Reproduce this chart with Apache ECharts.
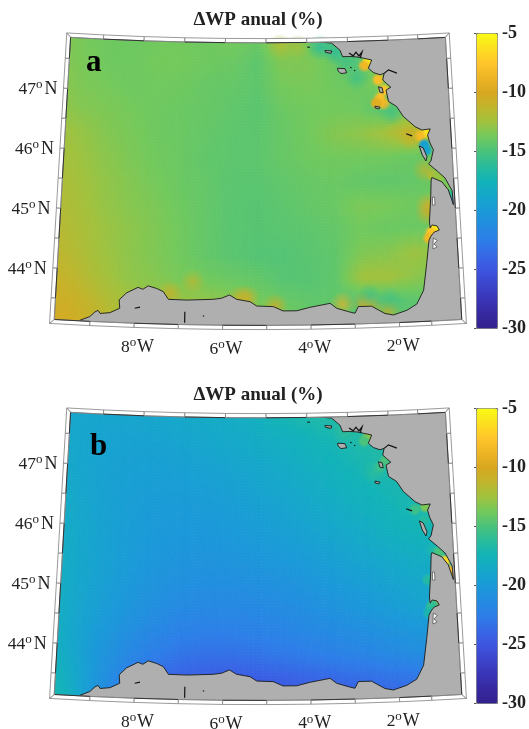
<!DOCTYPE html>
<html><head><meta charset="utf-8">
<style>html,body{margin:0;padding:0;background:#fff}#c{width:529px;height:729px}</style>
<script src="https://cdn.jsdelivr.net/npm/echarts@6/dist/echarts.min.js"></script>
</head><body><div id="c"></div>
<script>
const TITLE = "\u0394WP anual (%)";
const PANEL_LETTERS = ["a", "b"];
const LAT_TICKS = [47, 46, 45, 44];
const LON_TICKS = [8, 6, 4, 2];
const CB_MIN = -30, CB_MAX = -5, CB_STEP = 5;
const CB_COLORS = ["#33218F","#36299F","#3A35B8","#3C45CC","#3D55E0","#3669E6","#2D7EE8","#238CE0","#1A9AD8","#15A7CA","#12B3B8","#28BC9C","#4AC27C","#72C95C","#A0C23E","#C0B52C","#D8A71F","#EEB525","#FFC52B","#FCE020","#F9FB15"];
const LAT_NODES = [47.9,47.5,47.1,46.7,46.3,45.9,45.5,45.1,44.7,44.3,43.9,43.5,43.1];
const LON_NODES = [-10,-9.4,-8.8,-8.2,-7.6,-7,-6.4,-5.8,-5.2,-4.6,-4,-3.4,-2.8,-2.2,-1.6,-1,-0.4];
const SEA_A = [
[-13.3,-13.7,-13.9,-13.9,-13.8,-13.8,-13.9,-13.7,-14.0,-12.4,-14.0,-15.0,-14.8,-14.5,-14,-14,-14],
[-13.3,-13.6,-13.9,-13.9,-13.7,-13.7,-13.9,-14,-14.4,-13.4,-13.4,-13.9,-14.8,-13,-13,-13,-13],
[-13.1,-13.5,-13.7,-13.9,-13.8,-13.9,-14.1,-14.2,-14.4,-13.7,-13.6,-13.8,-14,-13.5,-13,-13,-13],
[-12.9,-13.3,-13.5,-13.7,-13.9,-14,-14.1,-14.3,-14.5,-14,-13.8,-13.7,-13.8,-14.6,-14,-14,-14],
[-12.4,-12.8,-13.3,-13.6,-13.9,-14,-14.2,-14.4,-14.4,-14.1,-13.8,-13.3,-13,-12.4,-11.2,-12,-12],
[-12.2,-12.6,-13.1,-13.5,-13.8,-14,-14.3,-14.4,-14.4,-14.1,-13.9,-13.8,-13.8,-13.8,-14,-14,-14],
[-11.9,-12.4,-12.9,-13.3,-13.7,-14,-14.2,-14.5,-14.5,-14.3,-14.1,-14,-14.2,-14.3,-14.2,-14,-14],
[-11.7,-12.2,-12.8,-13.2,-13.5,-13.9,-14.2,-14.5,-14.6,-14.4,-14.2,-14,-13.5,-13.6,-13.8,-14,-14],
[-11.5,-12,-12.6,-13,-13.4,-13.8,-14.2,-14.5,-14.6,-14.5,-14.4,-14.2,-13.8,-14,-14,-14,-14],
[-11.2,-11.8,-12.5,-13,-13.4,-13.8,-14.2,-14.5,-14.7,-14.7,-14.5,-14.3,-13.4,-13.2,-12.6,-13,-14],
[-10.8,-11.4,-12.2,-12.9,-13.2,-13.6,-13.8,-14,-14.2,-14.6,-14.6,-14.3,-12.4,-12.4,-13,-13.5,-14],
[-10.4,-10.8,-11.6,-12.4,-12.6,-12.6,-12.8,-13.2,-13.6,-14,-14.3,-14.3,-15,-14.8,-14.4,-14,-14],
[-10.2,-10.4,-11,-12,-12,-12,-12.2,-12.6,-13.2,-13.6,-14,-14,-14.5,-14.4,-14.2,-14,-14]];
const SEA_B = [
[-18.8,-19,-19,-18.9,-18.8,-18.6,-18.4,-18.2,-17.8,-17.2,-16.8,-16.5,-16.4,-16,-16,-16,-16],
[-18.7,-19,-19.2,-19.2,-19.2,-19,-18.8,-18.6,-18.3,-18,-17.6,-17.2,-16.8,-16.5,-16,-16,-16],
[-18.5,-19,-19.3,-19.5,-19.5,-19.4,-19.2,-19,-18.7,-18.4,-18,-17.6,-17.2,-16.8,-16.4,-16,-16],
[-18.4,-19,-19.4,-19.6,-19.7,-19.7,-19.6,-19.4,-19.1,-18.8,-18.4,-18,-17.6,-17.3,-17,-16.6,-16.5],
[-18.2,-18.9,-19.4,-19.7,-19.9,-20,-19.9,-19.8,-19.5,-19.2,-18.8,-18.4,-18,-17.6,-17.2,-17,-17],
[-18.1,-18.8,-19.4,-19.8,-20.1,-20.2,-20.2,-20.1,-19.9,-19.6,-19.3,-18.9,-18.5,-18,-17.6,-17.2,-17],
[-18,-18.8,-19.4,-19.9,-20.3,-20.5,-20.6,-20.5,-20.3,-20.1,-19.8,-19.4,-19,-18.6,-18.2,-18,-18],
[-17.9,-18.8,-19.5,-20.1,-20.6,-20.9,-21,-21,-20.9,-20.7,-20.4,-20,-19.6,-19.2,-18.8,-18.5,-18],
[-17.9,-18.9,-19.7,-20.4,-21,-21.4,-21.6,-21.6,-21.5,-21.3,-21,-20.6,-20.2,-19.8,-19.3,-19,-18.5],
[-17.8,-19,-20,-20.9,-21.6,-22.1,-22.3,-22.3,-22.1,-21.9,-21.6,-21.3,-21,-20.6,-20.2,-20,-19.5],
[-17.6,-19,-20.4,-21.5,-22.4,-23,-23.3,-23.3,-23.1,-22.8,-22.5,-22.2,-21.9,-21.5,-21.1,-21,-20.5],
[-17,-18.6,-20.6,-22.2,-23.4,-24.2,-24.5,-24.6,-24.5,-24.3,-24,-23.7,-23.4,-23.1,-22.8,-22.5,-22],
[-16.5,-18.2,-21,-23,-24.5,-25,-25.3,-25.4,-25.4,-25.2,-25,-24.7,-24.5,-24.2,-24,-23.5,-23]];
const PATCH_A = [
[-2.51,47.5,-6],[-2.61,47.435,-8.5],[-2.28,47.195,-8],[-2.15,47.02,-7.5],[-2.25,46.89,-8],[-2.16,46.79,-8.5],[-2.35,46.81,-9.5],
[-1.16,46.29,-6],[-1.33,46.23,-8],[-1.24,46.08,-19.5],[-1.2,45.99,-19],
[-1.09,45.57,-12.5],[-0.93,45.53,-12.8],[-0.8,45.38,-13.5],[-0.72,45.22,-16],[-0.65,45.1,-21],
[-1.08,44.69,-5.5],[-1.18,44.62,-7.5],[-1.24,44.525,-8.5]];
const GLOW_A = [
[-1.57,46.22,-10.5],[-1.25,45.66,-11],[-1.22,45.08,-9.5],[-1.23,44.94,-10],
[-7.21,43.66,-10.5],[-6.69,43.86,-11.3],[-5.45,43.597,-9.8],[-5.61,43.6,-10.5],[-4.81,43.463,-10],
[-3.27,43.48,-9],[-2.79,43.47,-10],[-2.65,43.45,-9.5],[-2.25,43.34,-10.5],[-2.65,43.6,-15.5],[-2.19,43.54,-15.2],
[-3.68,47.765,-16.5],[-3.31,47.68,-16.5],[-3.07,47.51,-15.5],[-2.79,47.24,-15.5],[-1.98,46.63,-15.5],[-4.22,47.77,-12.2],[-4.66,47.79,-12]];
const PATCH_B = [
[-2.51,47.5,-13],[-2.61,47.435,-15],[-2.12,47.09,-15],[-2.25,46.99,-15.5],[-1.2,46.3,-13.5],[-1.45,46.26,-15.5],[-1.24,46.08,-16.5],
[-1.09,45.57,-17],[-0.93,45.53,-15],[-0.8,45.38,-6.5],[-0.72,45.22,-8],[-0.65,45.1,-10],
[-1.22,45.08,-16.5],[-1.08,44.69,-9],[-1.13,44.66,-15.5],[-1.18,44.62,-16],[-1.24,44.525,-17]];
const GLOW_B = [[-3.07,47.6,-15.8],[-2.4,46.9,-16]];
const COAST_LON = [-9.23,-9.01,-8.9,-8.83,-8.78,-8.56,-8.34,-8.36,-8.2,-7.94,-7.83,-7.71,-7.51,-7.36,-7.24,-6.82,-6.22,-6.03,-5.85,-5.69,-5.38,-5.23,-4.85,-4.63,-4.32,-4.02,-3.56,-3.41,-3.15,-3,-2.92,-2.62,-2.32,-2.13,-1.82,-1.59,-1.42,-1.32,-1.24,-1.19,-1.11,-0.99,-1.04,-1.15,-1.2,-1.21,-1.15,-1.12,-1.1,-0.87,-0.73,-0.63,-0.64,-0.79,-0.96,-1.16,-1.1,-1.03,-1.11,-1.15,-1.08,-1.28,-1.44,-1.71,-1.86,-2.05,-2.1,-1.98,-2.08,-2.17,-2.13,-2.23,-2.39,-2.51,-2.42,-2.62,-2.78,-2.95,-3.13,-3.19,-3.39,-3.51,-3.76,-4.25];
const COAST_LAT = [43.15,43.22,43.3,43.33,43.28,43.3,43.38,43.52,43.64,43.74,43.71,43.77,43.73,43.68,43.555,43.55,43.57,43.59,43.645,43.574,43.535,43.463,43.452,43.38,43.38,43.435,43.495,43.41,43.35,43.32,43.43,43.43,43.3,43.27,43.34,43.435,43.66,44.105,44.49,44.556,44.62,44.65,44.72,44.74,44.69,44.79,45.21,45.49,45.53,45.45,45.31,45.06,45.29,45.51,45.63,45.76,45.81,45.99,46.12,46.24,46.34,46.33,46.39,46.57,46.74,46.83,47.02,47.065,47.13,47.19,47.3,47.28,47.32,47.395,47.53,47.565,47.59,47.6,47.6,47.71,47.83,47.84,47.86,47.85];
const ISLANDS = [
[[-3.26,47.41],[-3.08,47.4],[-3.04,47.33],[-3.18,47.32],[-3.25,47.365]],
[[-3.56,47.71],[-3.39,47.7],[-3.41,47.66],[-3.545,47.68]],
[[-2.28,47.08],[-2.19,47.06],[-2.17,46.975],[-2.25,46.99]],
[[-2.38,46.76],[-2.26,46.74],[-2.29,46.71],[-2.38,46.73]],
[[-1.36,46.066],[-1.27,46.03],[-1.19,45.88],[-1.22,45.81],[-1.3,45.914]]];
const LAKES = [
[[-1.11,45.205],[-1.06,45.2],[-1.06,45.07],[-1.12,45.07]],
[[-1.14,44.52],[-1.05,44.48],[-1.13,44.42],[-1.06,44.37],[-1.16,44.34]]];
const DARK_MARKS = [
[[-2.97,47.66],[-2.87,47.61],[-2.8,47.67],[-2.73,47.605],[-2.65,47.67],[-2.7,47.57]],
[[-3.99,47.77],[-3.93,47.77]],[[-2.95,47.42],[-2.92,47.41]],[[-2.86,47.37],[-2.83,47.36]],
[[-1.66,46.28],[-1.52,46.24]],
[[-2.13,47.3],[-2.02,47.355],[-1.82,47.295]],
[[-6.86,43.355],[-6.86,43.17]],[[-8,43.39],[-7.88,43.41]],[[-6.45,43.29],[-6.42,43.29]]];
const LAT_BREAKS = [43.07,43.5,44,44.5,45,45.5,46,46.5,47,47.5,47.92];
const LON_BREAKS = [-9.91,-9,-8,-7,-6,-5,-4,-3,-2,-1.27,-0.49];

// Map projection (conic) used to place every map mark through the axes.
const RHO0 = 3378, PX_PER_DEG = 60, CONE = 0.012566, LON0 = -5.2, LAT0 = 45.5;
const INNER = {w:-9.81, e:-0.59, s:43.14, n:47.85};
function project(lon, lat){
  const rho = RHO0 - (lat - LAT0) * PX_PER_DEG, th = (lon - LON0) * CONE;
  return [rho * Math.sin(th), RHO0 - rho * Math.cos(th)];
}
const clamp = (v,a,b)=>Math.max(a,Math.min(b,v));
const colorOf = v => echarts.color.lerp(clamp((v-CB_MIN)/(CB_MAX-CB_MIN),0,1), CB_COLORS);
const SERIF = '"Liberation Serif","Times New Roman",serif';

function seaSeries(idx, M){
  const data=[];
  M.forEach((r,j)=>r.forEach((v,i)=>{ if(i<r.length-1&&j<M.length-1) data.push([i,j,v]); }));
  const SUB=8;
  return {type:'custom',coordinateSystem:'cartesian2d',xAxisIndex:idx,yAxisIndex:idx,silent:true,clip:false,z:1,
    progressive:0,animation:false,data,encode:{x:-1,y:-1},
    renderItem(p,api){
      const i=api.value(0), j=api.value(1), ch=[];
      const lo0=LON_NODES[i],lo1=LON_NODES[i+1],la0=LAT_NODES[j],la1=LAT_NODES[j+1];
      const q=(u,v)=>{const lon=clamp(lo0+(lo1-lo0)*u,INNER.w,INNER.e),lat=clamp(la0+(la1-la0)*v,INNER.s,INNER.n);return api.coord(project(lon,lat));};
      const a=M[j][i],b=M[j][i+1],c=M[j+1][i],d=M[j+1][i+1];
      for(let s=0;s<SUB;s++)for(let t=0;t<SUB;t++){
        const u0=s/SUB,u1=(s+1)/SUB,v0=t/SUB,v1=(t+1)/SUB,um=(u0+u1)/2,vm=(v0+v1)/2;
        const val=a*(1-um)*(1-vm)+b*um*(1-vm)+c*(1-um)*vm+d*um*vm;
        const col=colorOf(val);
        ch.push({type:'polygon',shape:{points:[q(u0,v0),q(u1,v0),q(u1,v1),q(u0,v1)]},style:{fill:col,stroke:col,lineWidth:0.8}});
      }
      return {type:'group',children:ch};
    }};
}
function patchSeries(idx, P){
  return {type:'custom',coordinateSystem:'cartesian2d',xAxisIndex:idx,yAxisIndex:idx,silent:true,clip:false,z:2,animation:false,
    data:P,encode:{x:0,y:1},
    renderItem(p,api){
      const c=api.coord(project(api.value(0),api.value(1))), col=api.visual('color');
      return {type:'circle',shape:{cx:c[0],cy:c[1],r:7},style:{fill:{type:'radial',x:.5,y:.5,r:.5,colorStops:[
        {offset:0,color:col},{offset:.45,color:col},{offset:1,color:echarts.color.modifyAlpha(col,0)}]}}};
    }};
}
function glowSeries(idx, P){
  return {type:'custom',coordinateSystem:'cartesian2d',xAxisIndex:idx,yAxisIndex:idx,silent:true,clip:false,z:2,animation:false,
    data:P,encode:{x:0,y:1},
    renderItem(p,api){
      const c=api.coord(project(api.value(0),api.value(1))), col=api.visual('color');
      return {type:'circle',shape:{cx:c[0],cy:c[1],r:13},style:{fill:{type:'radial',x:.5,y:.5,r:.5,colorStops:[
        {offset:0,color:echarts.color.modifyAlpha(col,.7)},{offset:1,color:echarts.color.modifyAlpha(col,0)}]}}};
    }};
}
function landSeries(idx){
  return {type:'custom',coordinateSystem:'cartesian2d',xAxisIndex:idx,yAxisIndex:idx,silent:true,clip:false,z:3,animation:false,
    data:[0],encode:{x:-1,y:-1},
    renderItem(p,api){
      const P=(a)=>api.coord(project(a[0],a[1]));
      const coast=COAST_LON.map((lon,i)=>P([lon,COAST_LAT[i]]));
      const closure=[];
      for(let lon=-4.25;lon<-0.5;lon+=0.25)closure.push(P([lon,47.9]));
      closure.push(P([-0.5,47.9]),P([-0.5,43.1]));
      for(let lon=-0.75;lon>-9.25;lon-=0.25)closure.push(P([lon,43.1]));
      const ch=[{type:'polygon',shape:{points:coast.concat(closure)},style:{fill:'#AFAFAF'}},
        {type:'polyline',shape:{points:coast},style:{fill:'none',stroke:'#1a1a1a',lineWidth:0.9}}];
      ISLANDS.forEach(l=>ch.push({type:'polygon',shape:{points:l.map(P)},style:{fill:'#AFAFAF',stroke:'#1a1a1a',lineWidth:0.9}}));
      LAKES.forEach(l=>ch.push({type:'polygon',shape:{points:l.map(P)},style:{fill:'#fff',stroke:'#555',lineWidth:0.8}}));
      DARK_MARKS.forEach(l=>ch.push({type:'polyline',shape:{points:l.map(P)},style:{fill:'none',stroke:'#111',lineWidth:1.2}}));
      return {type:'group',children:ch};
    }};
}
function frameSeries(idx){
  const OUT={w:LON_BREAKS[0],e:LON_BREAKS[LON_BREAKS.length-1],s:LAT_BREAKS[0],n:LAT_BREAKS[LAT_BREAKS.length-1]};
  return {type:'custom',coordinateSystem:'cartesian2d',xAxisIndex:idx,yAxisIndex:idx,silent:true,clip:false,z:5,animation:false,
    data:[0],encode:{x:-1,y:-1},
    renderItem(p,api){
      const P=(lon,lat)=>api.coord(project(lon,lat)), ch=[];
      const seg=(a,b,c,d,inner0,inner1,k)=>{
        ch.push({type:'polygon',shape:{points:[a,b,c,d]},style:{fill:'#fff',stroke:'#808080',lineWidth:0.8}});
        ch.push({type:'line',shape:{x1:inner0[0],y1:inner0[1],x2:inner1[0],y2:inner1[1]},style:{stroke:k%2?'#333':'#808080',lineWidth:k%2?1:0.8}});
      };
      for(let k=0;k<LON_BREAKS.length-1;k++){
        const l0=LON_BREAKS[k],l1=LON_BREAKS[k+1],L0=clamp(l0,INNER.w,INNER.e),L1=clamp(l1,INNER.w,INNER.e);
        let A=P(l0,OUT.n),B=P(l1,OUT.n),C=P(L1,INNER.n),D=P(L0,INNER.n); seg(A,B,C,D,D,C,k);
        A=P(l0,OUT.s);B=P(l1,OUT.s);C=P(L1,INNER.s);D=P(L0,INNER.s); seg(A,B,C,D,D,C,k+1);
      }
      for(let k=0;k<LAT_BREAKS.length-1;k++){
        const a0=LAT_BREAKS[k],a1=LAT_BREAKS[k+1],A0=clamp(a0,INNER.s,INNER.n),A1=clamp(a1,INNER.s,INNER.n);
        let A=P(OUT.w,a0),B=P(OUT.w,a1),C=P(INNER.w,A1),D=P(INNER.w,A0); seg(A,B,C,D,D,C,k);
        A=P(OUT.e,a0);B=P(OUT.e,a1);C=P(INNER.e,A1);D=P(INNER.e,A0); seg(A,B,C,D,D,C,k+1);
      }
      return {type:'group',children:ch};
    }};
}
function labelSeries(idx){
  const txt=(x,y,t,fs,extra)=>({type:'text',style:Object.assign({x,y,text:t,fill:'#222',font:fs+'px '+SERIF,textAlign:'left',textVerticalAlign:'bottom'},extra||{})});
  const items=LAT_TICKS.map(v=>['lat',v]).concat(LON_TICKS.map(v=>['lon',v]));
  return {type:'custom',coordinateSystem:'cartesian2d',xAxisIndex:idx,yAxisIndex:idx,silent:true,clip:false,z:6,animation:false,
    data:items.map((it,i)=>[i]),encode:{x:-1,y:-1},
    renderItem(p,api){
      const it=items[api.value(0)], v=it[1];
      if(it[0]==='lat'){
        const c=api.coord(project(LON_BREAKS[0],v)), r=c[0]-6, b=c[1]+10.5;
        return {type:'group',children:[txt(r-39,b,String(v),17.5),txt(r-21.5,b-7,'o',13),txt(r-13,b,'N',18)]};
      }
      const c=api.coord(project(-v,LAT_BREAKS[0])), l=c[0]-13, b=c[1]+28.5;
      return {type:'group',children:[txt(l,b,String(v),17.5),txt(l+8.6,b-7,'o',13),txt(l+16,b,'W',18)]};
    }};
}
const OFFSET_B=375;
const MAP_GRID={left:18,width:480,height:340};
const CB={left:476,width:21,top:33,height:295};
const grids=[{...MAP_GRID,top:13.8},{...MAP_GRID,top:13.8+OFFSET_B},
  {left:CB.left,width:CB.width,top:CB.top,height:CB.height},{left:CB.left,width:CB.width,top:CB.top+OFFSET_B,height:CB.height}];
const mapX=i=>({type:'value',gridIndex:i,min:-240,max:240,show:false});
const mapY=i=>({type:'value',gridIndex:i,min:-170,max:170,show:false});
const cbY=i=>({type:'value',gridIndex:i,position:'right',min:CB_MIN,max:CB_MAX,interval:CB_STEP,z:6,
  axisLine:{show:false},axisTick:{show:true,inside:true,length:2,lineStyle:{color:'#555'}},splitLine:{show:false},
  axisLabel:{margin:7,color:'#222',fontFamily:SERIF,fontWeight:'bold',fontSize:18}});
const vm=(seriesIndex,top)=>({type:'continuous',seriesIndex,dimension:2,min:CB_MIN,max:CB_MAX,calculable:false,hoverLink:false,
  left:CB.left,top,itemWidth:CB.width,itemHeight:CB.height,padding:0,borderColor:'#777',borderWidth:1,text:null,z:1,inRange:{color:CB_COLORS}});
const series=[seaSeries(0,SEA_A),patchSeries(0,PATCH_A),glowSeries(0,GLOW_A),landSeries(0),frameSeries(0),labelSeries(0),
  seaSeries(1,SEA_B),patchSeries(1,PATCH_B),glowSeries(1,GLOW_B),landSeries(1),frameSeries(1),labelSeries(1)];
const chart=echarts.init(document.getElementById('c'),null,{renderer:'canvas'});
const titleStyle={fontFamily:SERIF,fontWeight:'bold',fontSize:19,color:'#222'};
chart.setOption({animation:false,backgroundColor:'#fff',
  title:[
    {text:TITLE,left:258,top:11,textAlign:'center',padding:0,textStyle:titleStyle},
    {text:TITLE,left:258,top:11+OFFSET_B,textAlign:'center',padding:0,textStyle:titleStyle},
    {text:PANEL_LETTERS[0],left:86,top:47,padding:0,z:8,textStyle:{fontFamily:SERIF,fontWeight:'bold',fontSize:31,color:'#000'}},
    {text:PANEL_LETTERS[1],left:90,top:431,padding:0,z:8,textStyle:{fontFamily:SERIF,fontWeight:'bold',fontSize:31,color:'#000'}}],
  grid:grids,
  xAxis:[mapX(0),mapX(1),{type:'value',gridIndex:2,show:false},{type:'value',gridIndex:3,show:false}],
  yAxis:[mapY(0),mapY(1),cbY(2),cbY(3)],
  visualMap:[vm([1,2],CB.top),vm([7,8],CB.top+OFFSET_B)],
  series});
</script></body></html>
